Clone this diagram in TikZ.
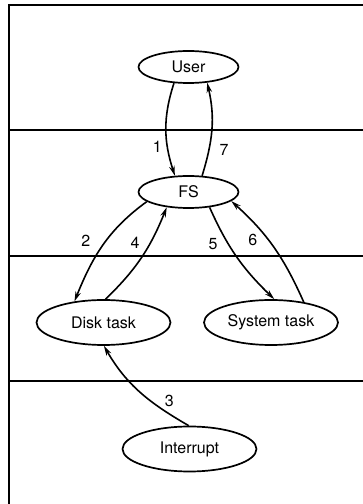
\documentclass[tikz,border=0pt]{standalone}
\usepackage{fontspec}
\setmainfont{TeX Gyre Heros}
\usetikzlibrary{shapes.geometric,arrows.meta}

\begin{document}
\begin{tikzpicture}[x=1pt, y=1pt,
    proc/.style={ellipse, draw=black, line width=1.7pt, inner sep=0pt, font=\fontsize{16}{19}\selectfont},
    procS/.style={proc, minimum width=100pt, minimum height=32pt},
    procL/.style={proc, minimum width=134pt, minimum height=45pt},
    msg/.style={line width=1.6pt, -{Stealth[length=10pt, width=5.5pt]}},
    num/.style={inner sep=1pt, font=\fontsize{16}{19}\selectfont},
    layer/.style={line width=1.5pt}]

    \useasboundingbox (0,0) rectangle (363,504);

    % Layer boundaries
    \draw[layer] (363,499) -- (9,499) -- (9,0);
    \draw[layer] (9,374) -- (363,374);
    \draw[layer] (9,248) -- (363,248);
    \draw[layer] (9,123) -- (363,123);

    % Processes
    \node[procS] (user) at (188.5,437) {User};
    \node[procS] (fs) at (188.5,312) {FS};
    \node[procL] (disk) at (103.5,181.5) {Disk task};
    \node[procL] (sys) at (271,181.5) {System task};
    \node[procL] (intr) at (189.5,55) {Interrupt};

    % Messages, numbered in order
    \draw[msg] (user.-132) to[out=-108, in=108] node[num, pos=0.7, left=4pt] {1} (fs.130);
    \draw[msg] (fs.50) to[out=73, in=-77] node[num, pos=0.27, right=9pt] {7} (user.-40);
    \draw[msg] (fs.-167) to[out=-144, in=68] node[num, pos=0.45, left=14pt] {2} (disk.144);
    \draw[msg] (disk.85) to[out=44, in=-112] node[num, pos=0.66, left=9pt] {4} (fs.-145);
    \draw[msg] (fs.-36) to[out=-66, in=136] node[num, pos=0.35, left=9pt] {5} (sys.82);
    \draw[msg] (sys.32) to[out=114, in=-42] node[num, pos=0.58, left=9pt] {6} (fs.-12);
    \draw[msg] (intr.92) to[out=150, in=-60] node[num, pos=0.38, right=13pt] {3} (disk.-89);

\end{tikzpicture}
\end{document}
